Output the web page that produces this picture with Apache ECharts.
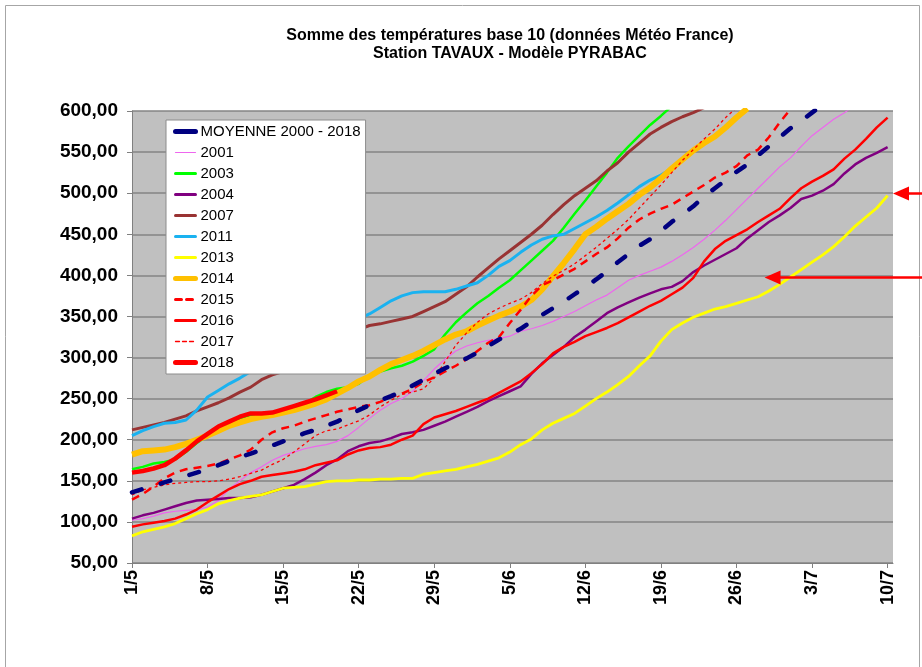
<!DOCTYPE html>
<html><head><meta charset="utf-8">
<script src="https://cdn.jsdelivr.net/npm/echarts@6/dist/echarts.min.js"></script>
<style>html,body{margin:0;padding:0;background:#fff}#c{width:922px;height:667px}</style>
</head><body><div id="c"></div>
<script>
const dates = ['1/5','2/5','3/5','4/5','5/5','6/5','7/5','8/5','9/5','10/5','11/5','12/5','13/5','14/5','15/5','16/5','17/5','18/5','19/5','20/5','21/5','22/5','23/5','24/5','25/5','26/5','27/5','28/5','29/5','30/5','31/5',
'1/6','2/6','3/6','4/6','5/6','6/6','7/6','8/6','9/6','10/6','11/6','12/6','13/6','14/6','15/6','16/6','17/6','18/6','19/6','20/6','21/6','22/6','23/6','24/6','25/6','26/6','27/6','28/6','29/6','30/6',
'1/7','2/7','3/7','4/7','5/7','6/7','7/7','8/7','9/7','10/7'];
const tickDays = [0,7,14,21,28,35,42,49,56,63,70];
const seriesNames = ['MOYENNE 2000 - 2018','2001','2003','2004','2007','2011','2013','2014','2015','2016','2017','2018'];

const moyenne = [136,140,144,148,152,156,160,164,169,174,179,183,188,193,198,203,208,212,217,222,229,236,242,248,253,259,266,273,280,287,293,299,306,314,322,328,335,344,352,360,368,377,386,395,405,416,426,436,444,454,465,474,484,496,506,516,526,535,546,557,568,579,588,598,608];
const y2001 = [102,104,107,111,113,114,115,118,126,140,150,160,167,175,181,185,189,192,194,198,205,215,226,236,244,250,259,272,286,298,308,314,318,321,323,326,332,335,339,344,350,356,363,370,376,385,394,400,405,410,417,425,434,444,455,467,480,493,506,519,532,543,557,570,580,590,598,607];
const y2003 = [164,167,171,173,176,185,196,205,214,220,226,230,231,233,236,240,244,252,258,262,264,268,278,283,287,290,295,302,310,328,343,355,366,375,385,394,406,418,430,442,458,475,491,508,525,543,557,570,583,594,606];
const y2004 = [104,108,111,115,119,123,126,127,128,129,129,130,133,137,141,145,152,160,169,176,186,192,196,198,202,207,209,212,217,222,228,234,240,247,253,259,265,280,293,303,313,325,334,344,354,361,367,373,378,383,386,393,404,412,419,426,433,445,455,465,473,482,493,497,503,511,524,535,543,549,556];
const y2007 = [212,215,218,221,225,229,235,240,245,251,258,264,273,279,283,289,296,303,311,319,326,334,339,341,344,347,350,356,362,368,377,386,398,409,420,430,440,450,461,474,486,497,506,515,527,537,550,561,572,580,587,593,598,604];
const y2011 = [205,211,216,220,221,224,236,252,260,268,275,283,290,297,304,311,317,323,329,335,341,347,353,361,369,375,379,380,380,380,383,387,391,400,411,418,428,437,444,448,450,457,464,471,479,488,498,508,516,522,530,541,552,561,569,580,592,602];
const y2013 = [83,88,91,94,98,104,110,115,122,126,129,131,133,137,141,142,143,146,149,150,150,151,151,152,152,153,153,158,160,162,164,167,170,174,178,185,194,201,212,220,226,232,241,250,258,267,277,290,302,320,334,342,349,354,359,362,366,370,374,381,389,398,407,416,425,435,447,460,471,482,497];
const y2014 = [182,186,187,188,191,195,200,205,211,217,221,225,228,230,233,236,240,244,249,256,263,271,277,285,292,297,302,308,315,322,328,332,339,345,351,356,362,370,383,399,415,432,450,459,469,478,487,498,507,518,530,541,552,561,569,580,592,603];
const y2015 = [127,134,143,153,160,164,166,168,171,176,181,188,200,209,214,217,222,226,230,234,237,240,242,246,252,256,262,270,276,283,290,298,308,318,325,342,358,375,388,394,401,408,417,426,434,445,458,468,475,481,486,494,502,510,519,525,533,546,553,568,586,602];
const y2016 = [94,97,99,101,104,109,115,124,132,140,146,150,155,157,159,161,164,169,172,175,182,187,190,191,194,200,205,219,227,231,235,240,245,250,257,264,271,281,292,305,313,319,326,331,336,342,349,356,363,369,377,385,397,417,432,442,449,456,465,473,481,494,506,514,521,529,542,553,566,580,592];
const y2017 = [133,139,142,145,147,148,149,149,150,152,155,159,163,170,176,185,195,205,211,213,218,223,230,240,248,255,258,262,275,295,315,330,343,353,360,366,371,379,390,399,406,414,424,434,445,456,468,482,496,510,525,540,553,566,578,592,604];
const y2018 = [160,162,165,169,177,187,198,207,216,222,228,232,232,233,237,241,245,249,254,259];

const arrowValues = [500, 398];
const arrowTipDays = [70.5, 58.6];

const seriesData = [moyenne,y2001,y2003,y2004,y2007,y2011,y2013,y2014,y2015,y2016,y2017,y2018];
const looks = [
  {color:'#000080', width:4.5, type:[10,20], cap:'round', z:20, lw:5, lt:'solid'},
  {color:'#EE66EE', width:1.2, type:'solid', cap:'butt', z:3, lw:1.2, lt:'solid'},
  {color:'#00FF00', width:2.5, type:'solid', cap:'butt', z:4, lw:3, lt:'solid'},
  {color:'#800080', width:2.5, type:'solid', cap:'butt', z:5, lw:3, lt:'solid'},
  {color:'#993333', width:3, type:'solid', cap:'butt', z:6, lw:3, lt:'solid'},
  {color:'#1AB2F0', width:3, type:'solid', cap:'butt', z:7, lw:3, lt:'solid'},
  {color:'#FFFF00', width:2.8, type:'solid', cap:'butt', z:8, lw:3, lt:'solid'},
  {color:'#FFC000', width:6, type:'solid', cap:'butt', z:9, lw:5, lt:'solid'},
  {color:'#FF0000', width:2.5, type:[8,6], cap:'butt', z:10, lw:3, lt:[6,5]},
  {color:'#FF0000', width:2.5, type:'solid', cap:'butt', z:11, lw:3, lt:'solid'},
  {color:'#FF0000', width:1.3, type:[3,3], cap:'butt', z:12, lw:1.3, lt:[4,3]},
  {color:'#FF0000', width:4.5, type:'solid', cap:'butt', z:13, lw:5, lt:'solid'}
];

const FONT = '"Liberation Sans", Arial, sans-serif';
const chart = echarts.init(document.getElementById('c'), null, {renderer:'canvas'});

const series = seriesData.map((arr, k) => ({
  type:'line', name: seriesNames[k], data: arr.map((v,i)=>[i,v]),
  symbol:'none', showSymbol:false, clip:true, animation:false, z: looks[k].z,
  lineStyle:{color:looks[k].color, width:looks[k].width, type:looks[k].type, cap:looks[k].cap},
  itemStyle:{color:looks[k].color}
}));

chart.setOption({
  animation:false,
  backgroundColor:'#ffffff',
  title:{
    text:'Somme des températures base 10 (données Météo France)\nStation TAVAUX - Modèle PYRABAC',
    left:505, top:22, textAlign:'center',
    textStyle:{fontFamily:FONT, fontSize:16, fontWeight:'bold', color:'#000', lineHeight:18}
  },
  grid:{left:132, right:29, top:111, bottom:104, show:true, backgroundColor:'#C0C0C0', borderWidth:0},
  xAxis:{
    type:'value', min:0, max:70.5, interval:7,
    axisLine:{show:true, lineStyle:{color:'#808080', width:1}},
    axisTick:{show:true, length:5, customValues:tickDays, lineStyle:{color:'#808080'}},
    axisLabel:{customValues:tickDays, rotate:90, margin:7, fontFamily:FONT, fontSize:18, fontWeight:'bold', color:'#000',
      formatter:(v)=> (Number.isInteger(v) && dates[v]) ? dates[v] : ''},
    splitLine:{show:false}
  },
  yAxis:{
    type:'value', min:50, max:600, interval:50,
    axisLine:{show:true, lineStyle:{color:'#808080', width:1}},
    axisTick:{show:true, length:5, lineStyle:{color:'#808080'}},
    axisLabel:{margin:14, fontFamily:FONT, fontSize:19, fontWeight:'bold', color:'#000',
      formatter:(v)=> v.toFixed(2).replace('.', ',')},
    splitLine:{show:true, lineStyle:{color:'#858585', width:1.5}}
  },
  legend:{
    orient:'vertical', left:166, top:120,
    padding:[4,5,4,7], itemGap:6, itemWidth:20, itemHeight:14,
    backgroundColor:'#ffffff', borderColor:'#8c8c8c', borderWidth:1,
    textStyle:{fontFamily:FONT, fontSize:15, color:'#000', lineHeight:15},
    itemStyle:{opacity:0, borderWidth:0},
    data: seriesNames.map((n,k)=>({name:n, itemStyle:{opacity:0, borderWidth:0}, lineStyle:{width:looks[k].lw, type:looks[k].lt, color:looks[k].color, cap:'round'}})),
    z:30
  },
  series: series
});

// annotation arrows placed in data space
const gfx = [{type:'rect', shape:{x:5.5, y:5.5, width:914, height:720}, style:{fill:null, stroke:'#a6a6a6', lineWidth:1}, z:0, silent:true}];
arrowValues.forEach((val, k) => {
  const p = chart.convertToPixel({gridIndex:0}, [arrowTipDays[k], val]);
  const tx = p[0], ty = Math.round(p[1]) + 0.5;
  gfx.push({type:'line', shape:{x1:tx+12, y1:ty, x2:922, y2:ty}, style:{stroke:'#FF0000', lineWidth:2.5}, z:40, silent:true});
  gfx.push({type:'polygon', shape:{points:[[tx,ty],[tx+16,ty-7],[tx+16,ty+7]]}, style:{fill:'#FF0000'}, z:40, silent:true});
});
chart.setOption({graphic: gfx});
</script>
</body></html>
